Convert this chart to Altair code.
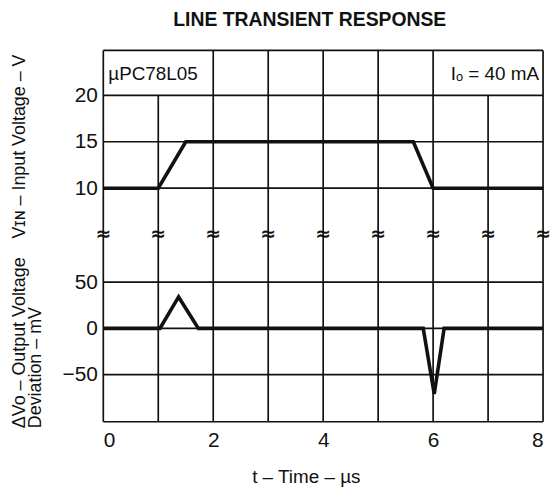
import altair as alt
import pandas as pd

# ---- data ----
t_grid = [0, 1, 2, 3, 4, 5, 6, 7, 8]
t_label_ticks = [0, 2, 4, 6, 8]
t_gap_in_label_row = [1, 7]          # vertical grid lines that stop at 20 V (label row)
vin_ticks = [10, 15, 20]
dvo_ticks = [-50, 0, 50]

vin_t = [0, 1.0, 1.5, 5.64, 6.0, 8]
vin_v = [10, 10, 15, 15, 10, 10]

dvo_t = [0, 1.03, 1.37, 1.73, 5.82, 6.02, 6.2, 8]
dvo_mv = [0, 0, 34, 0, 0, -71, 0, 0]

VIN_DOMAIN = [5.05, 24.84]
DVO_DOMAIN = [-101, 102]
T_DOMAIN = [0, 8]

W = 443
H_TOP = 185
H_BOT = 189
FONT = "Liberation Sans"
INK = "#111111"
GRID_W = 1.7
LINE_W = 3.6

# ---- tables ----
vgrid_top = pd.DataFrame({
    "t": t_grid,
    "y": [VIN_DOMAIN[0]] * len(t_grid),
    "y2": [20 if t in t_gap_in_label_row else VIN_DOMAIN[1] for t in t_grid],
})
hgrid_top = pd.DataFrame({"y": vin_ticks + [VIN_DOMAIN[1]]})
vgrid_bot = pd.DataFrame({
    "t": t_grid,
    "y": [DVO_DOMAIN[0]] * len(t_grid),
    "y2": [DVO_DOMAIN[1]] * len(t_grid),
})
hgrid_bot = pd.DataFrame({"y": dvo_ticks + [DVO_DOMAIN[0]]})
vin_df = pd.DataFrame({"t": vin_t, "y": vin_v})
dvo_df = pd.DataFrame({"t": dvo_t, "y": dvo_mv})
breaks_df = pd.DataFrame({"t": t_grid})
lab_left = pd.DataFrame({"t": [0], "txt": ["µPC78L05"]})
lab_right = pd.DataFrame({"t": [8], "txt": ["Iₒ = 40 mA"]})

x_top = alt.X("t:Q", scale=alt.Scale(domain=T_DOMAIN, nice=False, zero=False), axis=None)
x_bot = alt.X(
    "t:Q",
    scale=alt.Scale(domain=T_DOMAIN, nice=False, zero=False),
    axis=alt.Axis(values=t_label_ticks, domain=False, ticks=False, grid=False,
                  labelFontSize=21, labelFont=FONT, labelColor=INK, labelPadding=8,
                  title="t – Time – µs", titleFontSize=19, titleFont=FONT,
                  titleFontWeight="normal", titleColor=INK, titlePadding=17,
                  titleX=204),
)


def y_top():
    return alt.Y(
        "y:Q",
        scale=alt.Scale(domain=VIN_DOMAIN, nice=False, zero=False),
        axis=alt.Axis(values=vin_ticks, domain=False, ticks=False, grid=False,
                      labelFontSize=21, labelFont=FONT, labelColor=INK, labelPadding=6,
                      title="Vɪɴ – Input Voltage – V", titleFontSize=18, titleFont=FONT,
                      titleFontWeight="normal", titleColor=INK, titleAngle=270,
                      titleAlign="left", titleBaseline="top", titleX=-93, titleY=189),
    )


def y_bot():
    return alt.Y(
        "y:Q",
        scale=alt.Scale(domain=DVO_DOMAIN, nice=False, zero=False),
        axis=alt.Axis(values=dvo_ticks, domain=False, ticks=False, grid=False,
                      labelFontSize=21, labelFont=FONT, labelColor=INK, labelPadding=6,
                      title=["ΔVo – Output Voltage", "Deviation – mV"], titleFontSize=18,
                      titleFont=FONT, titleFontWeight="normal", titleColor=INK,
                      titleAngle=270, titleAlign="left", titleBaseline="top",
                      titleLineHeight=16, titleX=-93, titleY=195),
    )


top = alt.layer(
    alt.Chart(vgrid_top).mark_rule(color=INK, strokeWidth=GRID_W).encode(
        x=x_top, y=y_top(), y2="y2:Q"),
    alt.Chart(hgrid_top).mark_rule(color=INK, strokeWidth=GRID_W).encode(
        y=y_top(), x=alt.value(0), x2=alt.value(W)),
    alt.Chart(vin_df).mark_line(color=INK, strokeWidth=LINE_W, strokeJoin="miter").encode(
        x=x_top, y=y_top()),
    alt.Chart(lab_left).mark_text(align="left", baseline="middle", dx=5, fontSize=19,
                                  font=FONT, color=INK).encode(
        x=x_top, y=alt.value(24), text="txt:N"),
    alt.Chart(lab_right).mark_text(align="right", baseline="middle", dx=-4, fontSize=19,
                                   font=FONT, color=INK).encode(
        x=x_top, y=alt.value(24), text="txt:N"),
    alt.Chart(breaks_df).mark_text(align="center", baseline="middle", fontSize=19,
                                   fontWeight="bold", font="DejaVu Sans", color=INK).encode(
        x=x_top, y=alt.value(H_TOP), text=alt.value("≈")),
).properties(width=W, height=H_TOP)

bot = alt.layer(
    alt.Chart(vgrid_bot).mark_rule(color=INK, strokeWidth=GRID_W).encode(
        x=x_bot, y=y_bot(), y2="y2:Q"),
    alt.Chart(hgrid_bot).mark_rule(color=INK, strokeWidth=GRID_W).encode(
        y=y_bot(), x=alt.value(0), x2=alt.value(W)),
    alt.Chart(dvo_df).mark_line(color=INK, strokeWidth=LINE_W, strokeJoin="miter").encode(
        x=x_bot, y=y_bot()),
).properties(width=W, height=H_BOT)

chart = alt.vconcat(top, bot, spacing=0, bounds="flush").properties(
    title=alt.TitleParams("LINE TRANSIENT RESPONSE", font=FONT,
                          fontSize=19.5, fontWeight="bold", color=INK, anchor="middle",
                          offset=19, dx=29),
    padding={"left": 2, "top": 0, "right": 0, "bottom": 0},
    background="white",
).configure_view(stroke=None)

chart.save("out.html", embed_options={"renderer": "svg", "actions": False})
